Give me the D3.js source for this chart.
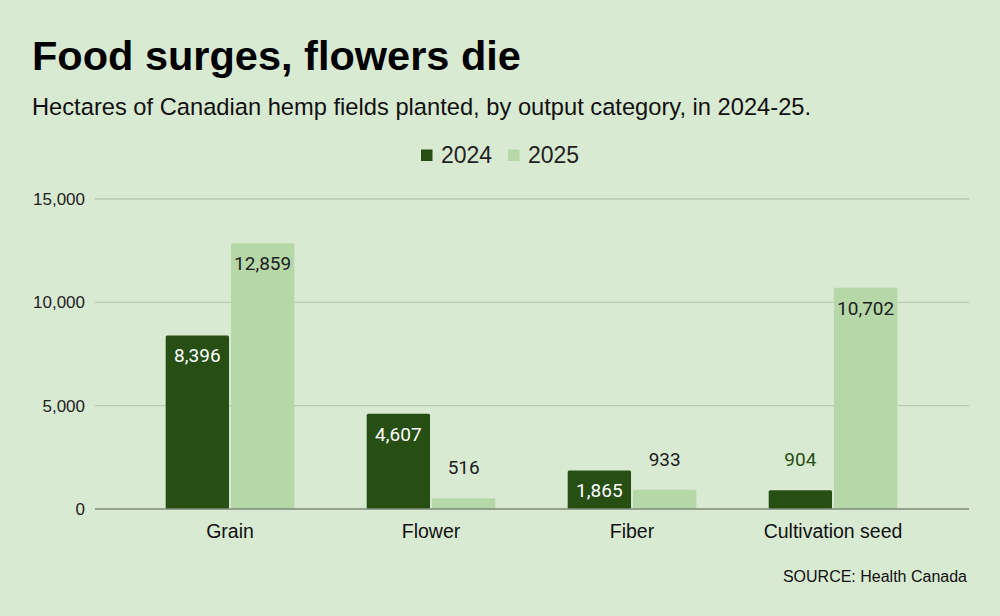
<!DOCTYPE html>
<html>
<head>
<meta charset="utf-8">
<script src="https://cdn.jsdelivr.net/npm/d3@7"></script>
<style>
  body { margin: 0; background: #d9ead3; }
  svg { display: block; }
</style>
</head>
<body>
<svg id="chart" width="1000" height="616"></svg>
<script>
// data
const categories = ['Grain', 'Flower', 'Fiber', 'Cultivation seed'];
const years = ['2024', '2025'];
const values2024 = [8396, 4607, 1865, 904];
const values2025 = [12859, 516, 933, 10702];
const yTicks = [0, 5000, 10000, 15000];

const colors = { '2024': '#274e13', '2025': '#b6d7a8' };

const svg = d3.select('#chart');
const width = 1000, height = 616;

svg.append('rect').attr('width', width).attr('height', height).attr('fill', '#d9ead3');

// titles
svg.append('text')
    .attr('x', 32).attr('y', 70)
    .attr('font-family', 'Liberation Sans, Arial, sans-serif')
    .attr('font-weight', 'bold')
    .attr('font-size', 41.5)
    .attr('fill', '#000')
    .text('Food surges, flowers die');

svg.append('text')
    .attr('x', 32).attr('y', 115)
    .attr('font-family', 'Liberation Sans, Arial, sans-serif')
    .attr('font-size', 23.7)
    .attr('fill', '#111')
    .text('Hectares of Canadian hemp fields planted, by output category, in 2024-25.');

// legend
const legend = svg.append('g').attr('font-family', 'Liberation Sans, Arial, sans-serif').attr('font-size', 23);
const legendX = [421, 508];
years.forEach((yr, i) => {
    legend.append('rect')
        .attr('x', legendX[i]).attr('y', 149.5)
        .attr('width', 11.5).attr('height', 11.5)
        .attr('fill', colors[yr]);
    legend.append('text')
        .attr('x', legendX[i] + 20).attr('y', 163)
        .attr('fill', '#222')
        .text(yr);
});

// scales
const plotLeft = 95, plotRight = 969;
const y = d3.scaleLinear().domain([0, 15000]).range([509, 199]);

const x0 = d3.scaleBand()
    .domain(categories)
    .range([129.5, 933.5])
    .paddingInner(0.36)
    .paddingOuter(0.18);

const x1 = d3.scaleBand()
    .domain(years)
    .range([0, x0.bandwidth()])
    .paddingInner(0.03);

// gridlines
const grid = svg.append('g');
grid.selectAll('line')
    .data(yTicks.filter(d => d > 0))
    .join('line')
    .attr('x1', plotLeft).attr('x2', plotRight)
    .attr('y1', d => y(d)).attr('y2', d => y(d))
    .attr('stroke', '#b9cdb2')
    .attr('stroke-width', 1.3);

// y axis
const yAxis = svg.append('g')
    .attr('transform', `translate(${plotLeft},0)`)
    .call(d3.axisLeft(y).tickValues(yTicks).tickSize(0).tickPadding(10).tickFormat(d3.format(',')));
yAxis.select('.domain').remove();
yAxis.selectAll('text')
    .attr('font-family', 'Liberation Sans, Arial, sans-serif')
    .attr('font-size', 17)
    .attr('fill', '#222');

// bars
const rows = categories.map((c, i) => ({ cat: c, vals: [values2024[i], values2025[i]] }));
const bars = rows.flatMap(r => years.map((yr, j) => ({ cat: r.cat, year: yr, value: r.vals[j] })));

svg.append('g')
    .selectAll('rect')
    .data(bars)
    .join('rect')
    .attr('x', d => x0(d.cat) + x1(d.year))
    .attr('y', d => y(d.value))
    .attr('width', x1.bandwidth())
    .attr('height', d => y(0) - y(d.value))
    .attr('rx', 1.5)
    .attr('fill', d => colors[d.year]);

// baseline
svg.append('line')
    .attr('x1', plotLeft).attr('x2', plotRight)
    .attr('y1', y(0)).attr('y2', y(0))
    .attr('stroke', '#7d8a78')
    .attr('stroke-width', 1.5);

// value labels: inside the bar if tall enough, else above it
const isInside = d => y(0) - y(d.value) > 30;
svg.append('g')
    .attr('font-family', 'Roboto, sans-serif')
    .attr('font-size', 19)
    .attr('text-anchor', 'middle')
    .selectAll('text')
    .data(bars)
    .join('text')
    .attr('x', d => x0(d.cat) + x1(d.year) + x1.bandwidth() / 2)
    .attr('y', d => isInside(d) ? y(d.value) + 27 : y(d.value) - 24)
    .attr('fill', d => {
        if (d.year === '2024') return isInside(d) ? '#ffffff' : '#274e13';
        return '#1d1d1d';
    })
    .text(d => d3.format(',')(d.value));

// category labels
svg.append('g')
    .attr('font-family', 'Liberation Sans, Arial, sans-serif')
    .attr('font-size', 19.5)
    .attr('text-anchor', 'middle')
    .selectAll('text')
    .data(categories)
    .join('text')
    .attr('x', d => x0(d) + x0.bandwidth() / 2)
    .attr('y', 538)
    .attr('fill', '#111')
    .text(d => d);

// source
svg.append('text')
    .attr('x', 967).attr('y', 582)
    .attr('text-anchor', 'end')
    .attr('font-family', 'Liberation Sans, Arial, sans-serif')
    .attr('font-size', 16)
    .attr('fill', '#111')
    .text('SOURCE: Health Canada');
</script>
</body>
</html>
